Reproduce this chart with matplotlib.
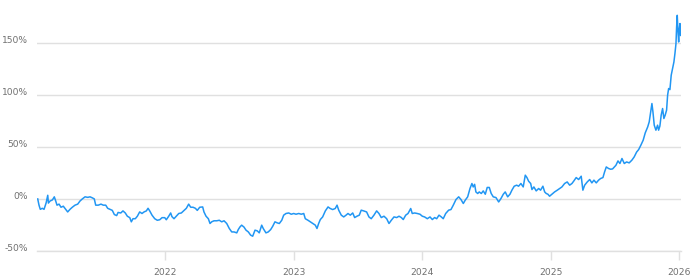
import matplotlib
matplotlib.use("Agg")
import matplotlib.pyplot as plt
import matplotlib.transforms as mtransforms

# cumulative return (%), x in decimal years
years = [
    2021.010, 2021.020, 2021.030, 2021.046, 2021.059, 2021.075, 2021.088, 2021.093,
    2021.106, 2021.124, 2021.139, 2021.150, 2021.160, 2021.176, 2021.191, 2021.209,
    2021.228, 2021.243, 2021.261, 2021.279, 2021.300, 2021.321, 2021.339, 2021.357,
    2021.378, 2021.399, 2021.417, 2021.435, 2021.450, 2021.461, 2021.481, 2021.502,
    2021.520, 2021.539, 2021.554, 2021.572, 2021.590, 2021.606, 2021.624, 2021.635,
    2021.656, 2021.673, 2021.691, 2021.707, 2021.726, 2021.738, 2021.751, 2021.769,
    2021.785, 2021.803, 2021.821, 2021.837, 2021.855, 2021.868, 2021.881, 2021.899,
    2021.920, 2021.940, 2021.959, 2021.977, 2021.998, 2022.010, 2022.029, 2022.044,
    2022.054, 2022.070, 2022.088, 2022.107, 2022.127, 2022.148, 2022.166, 2022.184,
    2022.200, 2022.218, 2022.236, 2022.251, 2022.270, 2022.293, 2022.303, 2022.319,
    2022.337, 2022.350, 2022.363, 2022.381, 2022.402, 2022.422, 2022.441, 2022.459,
    2022.480, 2022.500, 2022.519, 2022.537, 2022.558, 2022.570, 2022.583, 2022.596,
    2022.614, 2022.630, 2022.648, 2022.666, 2022.682, 2022.700, 2022.718, 2022.733,
    2022.752, 2022.764, 2022.785, 2022.803, 2022.822, 2022.838, 2022.855, 2022.873,
    2022.889, 2022.908, 2022.923, 2022.941, 2022.962, 2022.982, 2023.001, 2023.019,
    2023.040, 2023.060, 2023.079, 2023.091, 2023.112, 2023.130, 2023.149, 2023.169,
    2023.182, 2023.195, 2023.208, 2023.226, 2023.247, 2023.268, 2023.285, 2023.304,
    2023.324, 2023.338, 2023.351, 2023.371, 2023.390, 2023.408, 2023.423, 2023.441,
    2023.460, 2023.475, 2023.493, 2023.511, 2023.526, 2023.545, 2023.568, 2023.586,
    2023.604, 2023.625, 2023.646, 2023.664, 2023.682, 2023.703, 2023.724, 2023.742,
    2023.760, 2023.781, 2023.802, 2023.820, 2023.838, 2023.853, 2023.872, 2023.890,
    2023.911, 2023.923, 2023.942, 2023.962, 2023.983, 2024.001, 2024.019, 2024.040,
    2024.061, 2024.079, 2024.097, 2024.113, 2024.131, 2024.149, 2024.164, 2024.183,
    2024.206, 2024.224, 2024.242, 2024.263, 2024.284, 2024.302, 2024.320, 2024.335,
    2024.354, 2024.372, 2024.387, 2024.397, 2024.408, 2024.418, 2024.432, 2024.444,
    2024.460, 2024.475, 2024.491, 2024.506, 2024.522, 2024.537, 2024.553, 2024.574,
    2024.595, 2024.613, 2024.631, 2024.646, 2024.665, 2024.683, 2024.698, 2024.716,
    2024.735, 2024.750, 2024.768, 2024.786, 2024.802, 2024.815, 2024.828, 2024.844,
    2024.854, 2024.869, 2024.887, 2024.906, 2024.921, 2024.939, 2024.953, 2024.965,
    2024.978, 2024.991, 2025.009, 2025.030, 2025.051, 2025.069, 2025.087, 2025.108,
    2025.128, 2025.147, 2025.165, 2025.180, 2025.198, 2025.217, 2025.237, 2025.250,
    2025.264, 2025.284, 2025.303, 2025.320, 2025.336, 2025.354, 2025.372, 2025.388,
    2025.406, 2025.419, 2025.432, 2025.450, 2025.466, 2025.481, 2025.507, 2025.523,
    2025.538, 2025.554, 2025.572, 2025.590, 2025.610, 2025.631, 2025.649, 2025.668,
    2025.684, 2025.701, 2025.719, 2025.735, 2025.754, 2025.766, 2025.777, 2025.787,
    2025.795, 2025.805, 2025.818, 2025.831, 2025.839, 2025.849, 2025.859, 2025.870,
    2025.880, 2025.890, 2025.901, 2025.909, 2025.917, 2025.927, 2025.937, 2025.948,
    2025.958, 2025.966, 2025.974, 2025.979, 2025.984, 2025.989, 2025.995, 2025.999,
    2026.005, 2026.010,
]
returns = [
    0, -6, -10, -9, -10, -4, 3.5, -4,
    -2, -1, 2, -2, -6, -5, -8, -7,
    -10, -12.5, -10, -8, -6, -5, -2, 0,
    2, 1.5, 2, 1, 0, -6, -6, -5,
    -6, -6, -9, -10, -11, -15, -16, -13,
    -13.5, -11.5, -13.5, -16.6, -18, -22, -19, -19,
    -16.6, -12.5, -14, -12.5, -11.5, -9, -11.5, -15.6,
    -19, -20.5, -20, -18, -18, -20, -16.6, -13.5,
    -17, -19, -16.6, -14, -13.5, -11, -9, -5,
    -8, -8, -9, -11, -8, -7.7, -12.5, -16.6,
    -19, -23.6, -22, -21, -21, -20.5, -22, -21,
    -23.6, -28.4, -31.7, -31.7, -32.6, -29.4, -26.9, -25.2,
    -27, -30, -31.7, -34.8, -35.8, -30, -30.7, -32.6,
    -25.2, -28.4, -32.6, -31.7, -29.4, -26.2, -22, -23,
    -23.6, -20.5, -15.6, -14, -13.5, -14.7, -14, -14.7,
    -14, -14.7, -14, -19, -20.5, -22, -23.6, -25.2,
    -28.4, -23.6, -19.8, -17.3, -11.5, -7.7, -9.2, -10.2,
    -9.2, -6, -10.8, -15.6, -17.3, -15.6, -14, -15.6,
    -13.5, -17.9, -16.6, -15.6, -10.8, -11.5, -12.5, -17.3,
    -19, -15.6, -11.5, -14, -17.9, -16.6, -19, -23.6,
    -20.5, -17.3, -17.9, -16.6, -17.9, -19.8, -15.6, -14,
    -9.2, -14, -13.5, -14, -14.7, -16.6, -17.3, -19,
    -17.3, -19.8, -17.9, -19, -15.6, -17.3, -19, -14,
    -10.8, -10.2, -6, -0.6, 2, -0.6, -4.4, -1.2,
    2, 10, 14.8, 11.5, 14, 6.7, 5.2, 6.7,
    5.2, 7.7, 4.5, 11, 11, 5.2, 2, 1.3,
    -2.9, 0.4, 4.5, 6.7, 2, 4.5, 8.4, 12.2,
    13.2, 12.2, 14.8, 11.5, 22.8, 20.5, 17, 14.8,
    9, 11.5, 7.7, 10, 8.4, 12.2, 6.7, 5.2,
    4.5, 2.6, 4.5, 6.7, 8.4, 10, 11.5, 14.8,
    16.3, 13.2, 14.8, 17.3, 20.5, 18.6, 21.8, 8.4,
    13.2, 16.3, 18.6, 15.4, 18, 15.4, 18, 19.6,
    20.5, 26, 30.7, 29.2, 28.5, 28.8, 32.3, 36.5,
    34, 38.8, 34, 35.5, 34.6, 37.2, 40.3, 45,
    47.4, 51.6, 56.4, 63.4, 69.1, 74, 83.5, 91.6,
    83.5, 70.8, 66, 70.8, 66, 70, 80.4, 86.8,
    77.2, 80.4, 85.2, 99.6, 106, 105, 118.8, 125.2,
    131.5, 139.6, 149, 165, 176.3, 162, 150.7, 162,
    168.4, 157,
]

y_ticks = [-50, 0, 50, 100, 150]
y_labels = ["-50%", "0%", "50%", "100%", "150%"]
x_ticks = [2022, 2023, 2024, 2025, 2026]
x_labels = ["2022", "2023", "2024", "2025", "2026"]

grid_col = "#e0e0e0"
text_col = "#707070"
font = ["Liberation Sans Narrow", "DejaVu Sans"]

fig = plt.figure(figsize=(6.91, 2.79), dpi=100)
ax = fig.add_axes([0.0531, 0.1004, 0.9324, 0.8996])

ax.plot(years, returns, color="#2196f3", lw=1.1, solid_joinstyle="round")

ax.set_xlim(2021.002, 2026.013)
ax.set_ylim(-50, 191)

ax.set_yticks(y_ticks)
ax.set_yticklabels(y_labels, family=font, fontsize=6.6, color=text_col, va="baseline")
ax.set_xticks(x_ticks)
ax.set_xticklabels(x_labels, family=font, fontsize=6.6, color=text_col)

ax.tick_params(axis="y", length=0, pad=6.5)
ax.tick_params(axis="x", length=6.5, width=1, color=grid_col, pad=6)

ax.yaxis.grid(True, color=grid_col, lw=1)
ax.set_axisbelow(True)
for s in ["top", "right", "left"]:
    ax.spines[s].set_visible(False)
ax.spines["bottom"].set_color(grid_col)
ax.spines["bottom"].set_linewidth(1)

fig.savefig("out.png", dpi=100)
